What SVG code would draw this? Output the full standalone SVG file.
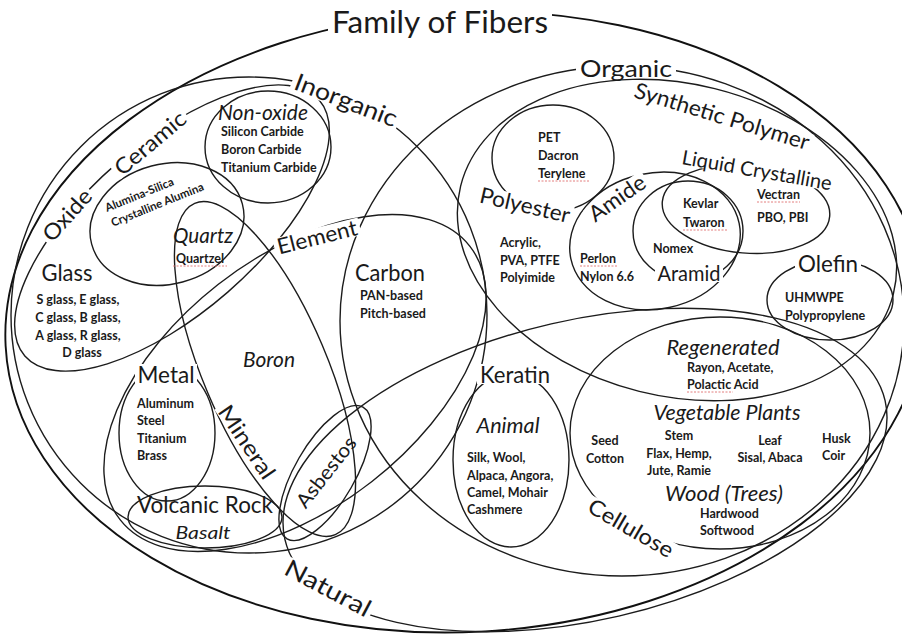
<svg xmlns="http://www.w3.org/2000/svg" width="902" height="635" viewBox="0 0 902 635">
<style>
.o{fill:none;stroke:#1c1c1c;stroke-width:1.4}
.ob{fill:none;stroke:#111;stroke-width:1.9}
.bg{fill:#fff}
text{font-family:Lato,"Open Sans","Liberation Sans",sans-serif;fill:#1a1a1a}
.lb{text-anchor:middle}
.it{font-style:italic}
.b{font-weight:bold;font-size:12.5px}
.c{text-anchor:middle}
.sq{fill:none;stroke:#e07070;stroke-width:0.9}
</style>
<rect width="902" height="635" fill="#fff"/>

<g id="outlines">
  <ellipse id="e-family" class="ob" cx="465" cy="322" rx="460" ry="310" transform="rotate(-3 465 322)"/>
  <circle id="e-inorganic" class="o" cx="249" cy="315" r="238"/>
  <ellipse id="e-organic" class="o" cx="622" cy="321" rx="282" ry="255"/>
  <ellipse id="e-natural" class="o" cx="585" cy="470" rx="308" ry="150" transform="rotate(-13 585 470)"/>
  <ellipse id="e-ceramic" class="o" cx="172" cy="228" rx="195" ry="85" transform="rotate(-41 172 228)"/>
  <ellipse id="e-nonoxide" class="o" cx="268" cy="147" rx="63" ry="56"/>
  <ellipse id="e-alumina" class="o" cx="167" cy="224" rx="78" ry="60" transform="rotate(-15 167 224)"/>
  <ellipse id="e-element" class="o" cx="295" cy="383" rx="222" ry="125" transform="rotate(-38 295 383)"/>
  <ellipse id="e-mineral" class="o" cx="265" cy="369" rx="180" ry="62" transform="rotate(67 265 369)"/>
  <ellipse id="e-metal" class="o" cx="167" cy="433" rx="48" ry="68"/>
  <ellipse id="e-volcanic" class="o" cx="205" cy="517" rx="77" ry="31"/>
  <ellipse id="e-asbestos" class="o" cx="325" cy="473" rx="76" ry="30" transform="rotate(-60 325 473)"/>
  <ellipse id="e-synthetic" class="o" cx="677" cy="240" rx="223" ry="156" transform="rotate(14 677 240)"/>
  <ellipse id="e-polyester" class="o" cx="553" cy="158" rx="61" ry="53"/>
  <ellipse id="e-amide" class="o" cx="655" cy="241" rx="86" ry="68" transform="rotate(-12 655 241)"/>
  <ellipse id="e-aramid" class="o" cx="688" cy="231" rx="55" ry="50"/>
  <ellipse id="e-lc" class="o" cx="746" cy="209" rx="84" ry="44" transform="rotate(5 746 209)"/>
  <ellipse id="e-olefin" class="o" cx="830" cy="300" rx="63" ry="40"/>
  <ellipse id="e-cellulose" class="o" cx="720" cy="433" rx="150" ry="116"/>
  <ellipse id="e-keratin" class="o" cx="511" cy="460" rx="58" ry="87"/>
</g>

<g id="labels">
  <g id="l-family" transform="translate(440 22)"><rect class="bg" x="-112" y="-12" width="224" height="24"/><text class="lb" y="10.8" font-size="30" textLength="216" lengthAdjust="spacingAndGlyphs">Family of Fibers</text></g>
  <g id="l-inorganic" transform="translate(346 100) rotate(21)"><rect class="bg" x="-57" y="-10" width="114" height="20"/><text class="lb" y="8.6" font-size="24" textLength="108" lengthAdjust="spacingAndGlyphs">Inorganic</text></g>
  <g id="l-organic" transform="translate(626 68)"><rect class="bg" x="-50" y="-10" width="100" height="20"/><text class="lb" y="8.6" font-size="24" textLength="92" lengthAdjust="spacingAndGlyphs">Organic</text></g>
  <g id="l-synthetic" transform="translate(722 116) rotate(17)"><rect class="bg" x="-94" y="-9" width="188" height="18"/><text class="lb" y="7.9" font-size="22" textLength="182" lengthAdjust="spacingAndGlyphs">Synthetic Polymer</text></g>
  <g id="l-lc" transform="translate(757 170) rotate(10)"><rect class="bg" x="-79" y="-8" width="158" height="16"/><text class="lb" y="7.2" font-size="20" textLength="152" lengthAdjust="spacingAndGlyphs">Liquid Crystalline</text></g>
  <g id="l-ceramic" transform="translate(150 143) rotate(-40)"><rect class="bg" x="-46" y="-9" width="92" height="18"/><text class="lb" y="7.9" font-size="22" textLength="86" lengthAdjust="spacingAndGlyphs">Ceramic</text></g>
  <g id="l-oxide" transform="translate(67 215) rotate(-48)"><rect class="bg" x="-34" y="-9" width="68" height="18"/><text class="lb" y="7.9" font-size="22" textLength="62" lengthAdjust="spacingAndGlyphs">Oxide</text></g>
  <g id="l-element" transform="translate(317 237) rotate(-14)"><rect class="bg" x="-44" y="-9" width="88" height="18"/><text class="lb" y="7.9" font-size="22" textLength="82" lengthAdjust="spacingAndGlyphs">Element</text></g>
  <g id="l-mineral" transform="translate(247 442) rotate(56)"><rect class="bg" x="-45" y="-9" width="90" height="18"/><text class="lb" y="7.9" font-size="22" textLength="84" lengthAdjust="spacingAndGlyphs">Mineral</text></g>
  <g id="l-natural" transform="translate(328 588) rotate(28)"><rect class="bg" x="-50" y="-10" width="100" height="20"/><text class="lb" y="8.6" font-size="24" textLength="94" lengthAdjust="spacingAndGlyphs">Natural</text></g>
  <g id="l-polyester" transform="translate(525 205) rotate(13)"><rect class="bg" x="-49" y="-9" width="98" height="18"/><text class="lb" y="7.9" font-size="22" textLength="92" lengthAdjust="spacingAndGlyphs">Polyester</text></g>
  <g id="l-amide" transform="translate(617 198) rotate(-35)"><rect class="bg" x="-35" y="-9" width="70" height="18"/><text class="lb" y="7.9" font-size="22" textLength="64" lengthAdjust="spacingAndGlyphs">Amide</text></g>
  <g id="l-aramid" transform="translate(689 273)"><rect class="bg" x="-34" y="-9" width="68" height="18"/><text class="lb" y="7.9" font-size="22" textLength="63" lengthAdjust="spacingAndGlyphs">Aramid</text></g>
  <g id="l-olefin" transform="translate(828 263)"><rect class="bg" x="-33" y="-10" width="66" height="20"/><text class="lb" y="8.6" font-size="24" textLength="60" lengthAdjust="spacingAndGlyphs">Olefin</text></g>
  <g id="l-keratin" transform="translate(515 374)"><rect class="bg" x="-38" y="-10" width="76" height="20"/><text class="lb" y="8.6" font-size="24" textLength="70" lengthAdjust="spacingAndGlyphs">Keratin</text></g>
  <g id="l-metal" transform="translate(166 374)"><rect class="bg" x="-31" y="-10" width="62" height="20"/><text class="lb" y="8.6" font-size="24" textLength="57" lengthAdjust="spacingAndGlyphs">Metal</text></g>
  <g id="l-cellulose" transform="translate(631 528) rotate(30)"><rect class="bg" x="-50" y="-9" width="100" height="18"/><text class="lb" y="7.9" font-size="22" textLength="95" lengthAdjust="spacingAndGlyphs">Cellulose</text></g>
  <g id="l-asbestos" transform="translate(326 472) rotate(-52)"><text class="lb" y="7.2" font-size="20" textLength="84" lengthAdjust="spacingAndGlyphs">Asbestos</text></g>
</g>

<g id="headings">
  <text class="c it" x="263" y="120" font-size="21" textLength="90" lengthAdjust="spacingAndGlyphs">Non-oxide</text>
  <text class="c" x="67" y="281" font-size="24" textLength="51" lengthAdjust="spacingAndGlyphs">Glass</text>
  <text class="c" x="390" y="281" font-size="24" textLength="70" lengthAdjust="spacingAndGlyphs">Carbon</text>
  <text class="c it" x="269" y="367" font-size="21" textLength="52" lengthAdjust="spacingAndGlyphs">Boron</text>
  <text class="c it" x="203" y="243" font-size="21" textLength="60" lengthAdjust="spacingAndGlyphs">Quartz</text>
  <text class="c" x="205" y="513" font-size="23" textLength="136" lengthAdjust="spacingAndGlyphs">Volcanic Rock</text>
  <text class="c it" x="203" y="539" font-size="18" textLength="55" lengthAdjust="spacingAndGlyphs">Basalt</text>
  <text class="c it" x="723" y="355" font-size="21" textLength="113" lengthAdjust="spacingAndGlyphs">Regenerated</text>
  <text class="c it" x="508" y="433" font-size="21" textLength="63" lengthAdjust="spacingAndGlyphs">Animal</text>
  <text class="c it" x="727" y="420" font-size="21" textLength="147" lengthAdjust="spacingAndGlyphs">Vegetable Plants</text>
  <text class="c it" x="724" y="501" font-size="22" textLength="118" lengthAdjust="spacingAndGlyphs">Wood (Trees)</text>
</g>

<g id="items">
  <text class="b" x="221" y="136">Silicon Carbide</text>
  <text class="b" x="221" y="154">Boron Carbide</text>
  <text class="b" x="221" y="172">Titanium Carbide</text>
  <g transform="translate(107 212) rotate(-22)"><text class="b" style="font-size:11.5px">Alumina-Silica</text><text class="b" y="16" style="font-size:11.5px">Crystalline Alumina</text></g>
  <text class="b c" x="200" y="263">Quartzel</text>
  <text class="b c" x="78" y="304">S glass, E glass,</text>
  <text class="b c" x="78" y="322">C glass, B glass,</text>
  <text class="b c" x="78" y="340">A glass, R glass,</text>
  <text class="b c" x="82" y="357">D glass</text>
  <text class="b" x="360" y="300">PAN-based</text>
  <text class="b" x="360" y="318">Pitch-based</text>
  <text class="b" x="137" y="408">Aluminum</text>
  <text class="b" x="137" y="425">Steel</text>
  <text class="b" x="137" y="443">Titanium</text>
  <text class="b" x="137" y="460">Brass</text>
  <text class="b" x="538" y="142">PET</text>
  <text class="b" x="538" y="160">Dacron</text>
  <text class="b" x="538" y="178">Terylene</text>
  <text class="b" x="500" y="247">Acrylic,</text>
  <text class="b" x="500" y="265">PVA, PTFE</text>
  <text class="b" x="500" y="282">Polyimide</text>
  <text class="b" x="580" y="263">Perlon</text>
  <text class="b" x="580" y="281">Nylon 6.6</text>
  <text class="b" x="683" y="208">Kevlar</text>
  <text class="b" x="683" y="227">Twaron</text>
  <text class="b" x="653" y="253">Nomex</text>
  <text class="b" x="757" y="199">Vectran</text>
  <text class="b" x="757" y="222">PBO, PBI</text>
  <text class="b" x="785" y="302">UHMWPE</text>
  <text class="b" x="785" y="320">Polypropylene</text>
  <text class="b" x="687" y="372">Rayon, Acetate,</text>
  <text class="b" x="687" y="389">Polactic Acid</text>
  <text class="b" x="467" y="462">Silk, Wool,</text>
  <text class="b" x="467" y="480">Alpaca, Angora,</text>
  <text class="b" x="467" y="497">Camel, Mohair</text>
  <text class="b" x="467" y="514">Cashmere</text>
  <text class="b c" x="605" y="445">Seed</text>
  <text class="b c" x="605" y="463">Cotton</text>
  <text class="b c" x="679" y="440">Stem</text>
  <text class="b c" x="679" y="458">Flax, Hemp,</text>
  <text class="b c" x="679" y="475">Jute, Ramie</text>
  <text class="b c" x="770" y="445">Leaf</text>
  <text class="b c" x="770" y="462">Sisal, Abaca</text>
  <text class="b" x="822" y="443">Husk</text>
  <text class="b" x="822" y="460">Coir</text>
  <text class="b" x="700" y="518">Hardwood</text>
  <text class="b" x="700" y="535">Softwood</text>
</g>

<g id="spellmarks">
  <path class="sq" d="M538 181h52M173 266h54M683 230h45M757 202h43M580 266h38M687 392h46" stroke-dasharray="2 1.5"/>
</g>
</svg>
